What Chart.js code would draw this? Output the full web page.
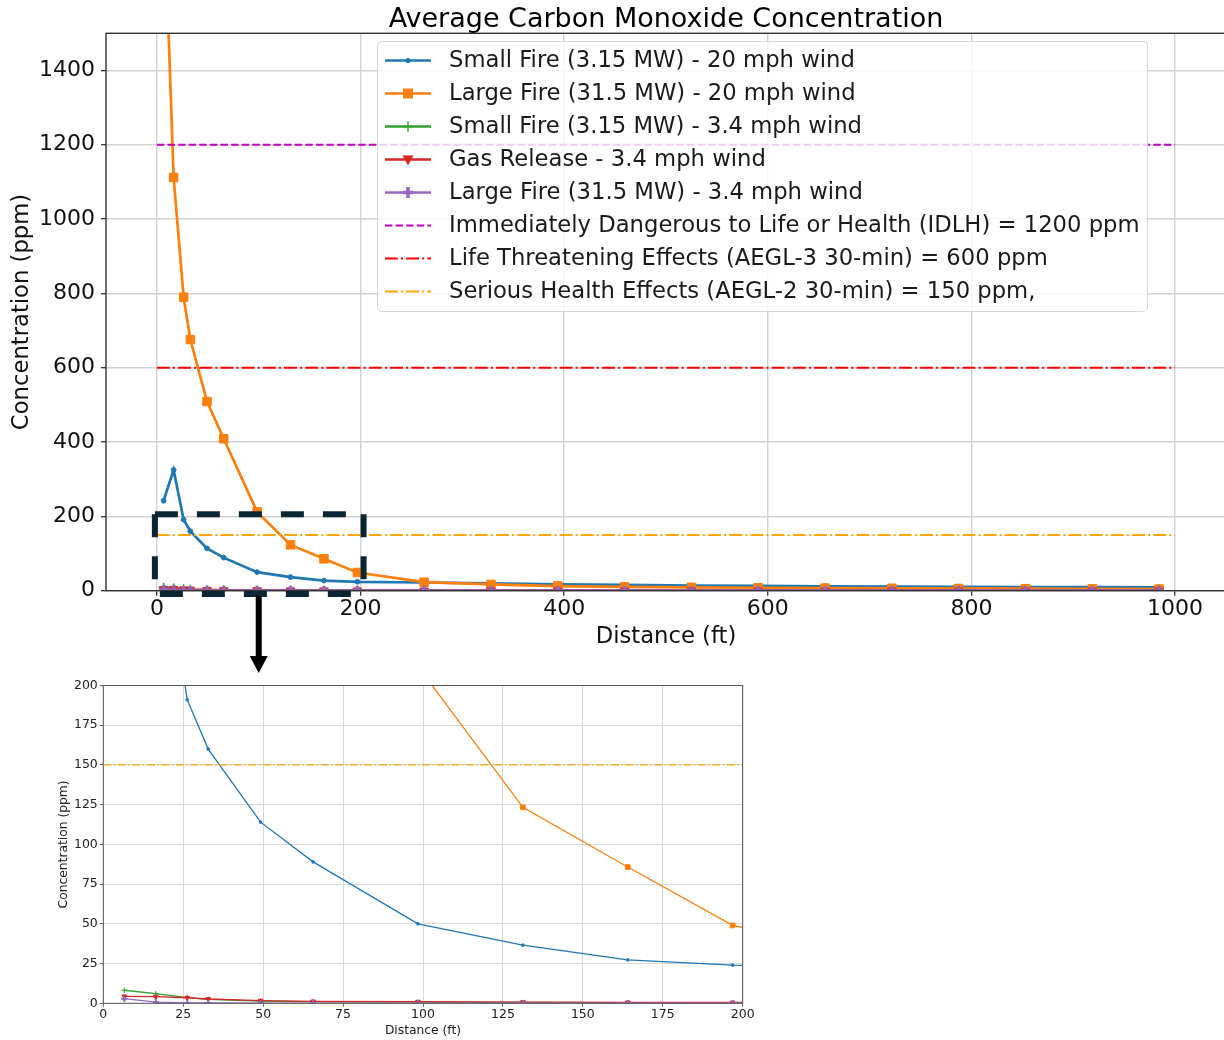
<!DOCTYPE html>
<html><head><meta charset="utf-8">
<script src="https://cdn.jsdelivr.net/npm/chart.js@4.4.1/dist/chart.umd.min.js"></script>
<style>
html,body{margin:0;padding:0;background:#fff;overflow:hidden;width:1224px;height:1040px;position:relative;font-family:'DejaVu Sans',sans-serif;}
#main{position:absolute;left:0;top:0;}
#inset{position:absolute;left:0;top:676px;}
#legend{position:absolute;left:377px;top:41px;width:771px;height:271px;box-sizing:border-box;border:1.3px solid rgba(204,204,204,0.8);border-radius:5px;background:rgba(255,255,255,0.8);}
.row{position:absolute;left:0;height:33px;width:765px;}
.row svg{position:absolute;left:7px;top:0;}
.row span{position:absolute;left:71px;top:-1px;line-height:33px;font-size:22.7px;color:#1a1a1a;white-space:nowrap;}
</style></head>
<body>
<canvas id="main" width="1240" height="676"></canvas>
<canvas id="inset" width="760" height="364"></canvas>
<div id="legend"></div>
<script>
// ---------------- DATA ----------------
const distancesFt = [6.56, 16.4, 26.25, 32.81, 49.21, 65.62, 98.43, 131.23, 164.04, 196.85, 262.47, 328.08, 393.7, 459.32, 524.93, 590.55, 656.17, 721.78, 787.4, 853.02, 918.64, 984.25];
const smallFire20 = [242, 325, 191, 160, 114, 89, 50, 36.6, 27.3, 24, 22, 19.5, 17, 15.5, 14, 13, 12, 11, 10.5, 10, 9.5, 9];
const largeFire20 = [1890, 1112, 790, 676, 509, 409, 212, 123.3, 85.8, 49, 23, 17, 12.5, 10.5, 9, 8, 7, 6.5, 6, 5.5, 5, 4.5];
const smallFire34 = [8.2, 6.1, 3.6, 2.5, 1.4, 1.0, 0.7, 0.5, 0.4, 0.35, 0.3, 0.25, 0.2, 0.2, 0.15, 0.15, 0.1, 0.1, 0.1, 0.1, 0.1, 0.1];
const gasRelease34 = [4.4, 4.2, 3.5, 2.7, 1.7, 1.2, 1.0, 0.8, 0.6, 0.5, 0.4, 0.3, 0.3, 0.25, 0.2, 0.2, 0.2, 0.15, 0.15, 0.15, 0.1, 0.1];
const largeFire34 = [2.9, 0.8, 0.3, 0.2, 0.15, 0.1, 0.1, 0.05, 0.05, 0.05, 0.05, 0.05, 0.05, 0.05, 0.05, 0.05, 0.05, 0.05, 0.05, 0.05, 0.05, 0.05];
const seriesLabels = ['Small Fire (3.15 MW) - 20 mph wind', 'Large Fire (31.5 MW) - 20 mph wind', 'Small Fire (3.15 MW) - 3.4 mph wind', 'Gas Release - 3.4 mph wind', 'Large Fire (31.5 MW) - 3.4 mph wind'];
const thresholdLabels = ['Immediately Dangerous to Life or Health (IDLH) = 1200 ppm', 'Life Threatening Effects (AEGL-3 30-min) = 600 ppm', 'Serious Health Effects (AEGL-2 30-min) = 150 ppm,'];
const thresholdValues = [1200, 600, 150];
const thresholdExtent = [0, 1000];
const mainXTicks = [0, 200, 400, 600, 800, 1000];
const mainYTicks = [0, 200, 400, 600, 800, 1000, 1200, 1400];
const insetTicks = [0, 25, 50, 75, 100, 125, 150, 175, 200];
const zoomBoxX = [-2, 203];
const zoomBoxY = [-9, 206];
const arrowX = 100;
const mainTitle = 'Average Carbon Monoxide Concentration';
const xTitle = 'Distance (ft)';
const yTitle = 'Concentration (ppm)';

// ---------------- STYLES ----------------
Chart.defaults.font.family = "'DejaVu Sans', sans-serif";
const seriesData = [smallFire20, largeFire20, smallFire34, gasRelease34, largeFire34];
const seriesColors = ['#1f77b4', '#ff7f0e', '#2ca02c', '#d62728', '#9467bd'];
const thresholdColors = ['#bf00bf', '#ff0000', '#ffa500'];

function makePlus(size, color) {
  const c = document.createElement('canvas');
  c.width = size; c.height = size;
  const g = c.getContext('2d');
  const t = size / 3;
  g.fillStyle = color;
  g.fillRect(0, t, size, t);
  g.fillRect(t, 0, t, size);
  return c;
}

function buildDatasets(k) {
  const markers = [
    {pointStyle: 'circle', pointRadius: 2.4 * k, pointRotation: 0},
    {pointStyle: 'rect', pointRadius: 6 * k, pointRotation: 0},
    {pointStyle: 'cross', pointRadius: 5 * k, pointRotation: 0},
    {pointStyle: 'triangle', pointRadius: 5 * k, pointRotation: 180},
    {pointStyle: makePlus(Math.max(5, Math.round(10 * k)), seriesColors[4]), pointRadius: 5 * k, pointRotation: 0}
  ];
  const ds = seriesData.map((arr, i) => ({
    label: seriesLabels[i],
    data: distancesFt.map((d, j) => ({x: d, y: arr[j]})),
    borderColor: seriesColors[i],
    backgroundColor: seriesColors[i],
    pointBackgroundColor: seriesColors[i],
    pointBorderColor: seriesColors[i],
    pointBorderWidth: i === 2 ? 1.5 * Math.max(k, 0.7) : 1,
    borderWidth: k === 1 ? 2.7 : 1.3,
    tension: 0,
    order: 20 - i,
    ...markers[i]
  }));
  const dashes = k === 1 ? [[7.4, 3.2], [12.8, 3.2, 2, 3.2], [12.8, 3.2, 2, 3.2]] : [[5, 2], [8, 2.5, 1.5, 2.5], [8, 2.5, 1.5, 2.5]];
  thresholdValues.forEach((v, i) => {
    ds.push({
      label: thresholdLabels[i],
      data: thresholdExtent.map(x => ({x: x, y: v})),
      borderColor: thresholdColors[i],
      backgroundColor: thresholdColors[i],
      borderWidth: k === 1 ? 2.1 : 1.2,
      borderDash: dashes[i],
      pointRadius: 0,
      tension: 0,
      order: 10 - i
    });
  });
  return ds;
}

const framePlugin = {
  id: 'frame',
  afterDatasetsDraw(chart, args, opts) {
    const {ctx, chartArea: a} = chart;
    ctx.save();
    ctx.strokeStyle = opts.color || '#333';
    ctx.lineWidth = opts.width || 1.3;
    ctx.strokeRect(a.left, a.top, a.right - a.left, a.bottom - a.top);
    ctx.restore();
  }
};

const zoomBoxPlugin = {
  id: 'zoomBox',
  afterDraw(chart) {
    const {ctx, scales: {x, y}} = chart;
    const l = x.getPixelForValue(zoomBoxX[0]), r = x.getPixelForValue(zoomBoxX[1]);
    const t = y.getPixelForValue(zoomBoxY[1]), b = y.getPixelForValue(zoomBoxY[0]);
    ctx.save();
    ctx.strokeStyle = '#0b2533';
    ctx.lineWidth = 6;
    ctx.lineCap = 'butt';
    ctx.setLineDash([23, 19]);
    const seg = (x1, y1, x2, y2, off) => { ctx.lineDashOffset = off; ctx.beginPath(); ctx.moveTo(x1, y1); ctx.lineTo(x2, y2); ctx.stroke(); };
    seg(l, t, r, t, 0);
    seg(r, t, r, b, 0);
    seg(l, b, r, b, -5);
    seg(l, t, l, b, 0);
    const ax = x.getPixelForValue(arrowX);
    ctx.setLineDash([]);
    ctx.fillStyle = '#000';
    ctx.fillRect(ax - 3, b + 2, 6, 61);
    ctx.beginPath();
    ctx.moveTo(ax - 9, b + 62);
    ctx.lineTo(ax + 9, b + 62);
    ctx.lineTo(ax, b + 79);
    ctx.closePath();
    ctx.fill();
    ctx.restore();
  }
};

const tickCb = v => String(v);

// ---------------- MAIN CHART ----------------
new Chart(document.getElementById('main'), {
  type: 'line',
  data: {datasets: buildDatasets(1)},
  options: {
    responsive: false, animation: false, devicePixelRatio: 1,
    layout: {padding: {left: 0, top: 0, right: 14, bottom: 0}},
    plugins: {
      legend: {display: false}, tooltip: {enabled: false},
      title: {display: true, text: mainTitle, fullSize: false, color: '#000', font: {size: 27, weight: 'normal', lineHeight: 1.0}, padding: {top: 6, bottom: 0.3}},
      frame: {color: '#333', width: 1.4}
    },
    scales: {
      x: {
        type: 'linear', min: -50, max: 1050,
        afterBuildTicks: s => { s.ticks = mainXTicks.map(v => ({value: v})); },
        afterFit: s => { s.height = 85.3; },
        ticks: {callback: tickCb, font: {size: 22}, color: '#111', padding: 0, maxRotation: 0, autoSkip: false},
        grid: {color: '#d2d2d2', lineWidth: 1.4, tickLength: 5, tickColor: '#333', tickWidth: 1.3},
        border: {display: false},
        title: {display: true, text: xTitle, color: '#111', font: {size: 22.7}, padding: {top: 0, bottom: 25.5}}
      },
      y: {
        type: 'linear', min: 0, max: 1500,
        afterBuildTicks: s => { s.ticks = mainYTicks.map(v => ({value: v})); },
        afterFit: s => { s.width = 106; },
        ticks: {callback: tickCb, font: {size: 22}, color: '#111', padding: 6, autoSkip: false},
        grid: {color: '#d2d2d2', lineWidth: 1.4, tickLength: 5, tickColor: '#333', tickWidth: 1.3},
        border: {display: false},
        title: {display: true, text: yTitle, color: '#111', font: {size: 22.7}, padding: {top: 8.5, bottom: 0}}
      }
    }
  },
  plugins: [framePlugin, zoomBoxPlugin]
});

// ---------------- INSET CHART ----------------
new Chart(document.getElementById('inset'), {
  type: 'line',
  data: {datasets: buildDatasets(0.55)},
  options: {
    responsive: false, animation: false, devicePixelRatio: 1,
    layout: {padding: {left: 0, top: 9, right: 17.3, bottom: 0}},
    plugins: {legend: {display: false}, tooltip: {enabled: false}, title: {display: false}, frame: {color: '#555', width: 1}},
    scales: {
      x: {
        type: 'linear', min: 0, max: 200,
        afterBuildTicks: s => { s.ticks = insetTicks.map(v => ({value: v})); },
        afterFit: s => { s.height = 36.7; },
        ticks: {callback: tickCb, font: {size: 12.5}, color: '#222', padding: 0, maxRotation: 0, autoSkip: false},
        grid: {color: '#d8d8d8', lineWidth: 1, tickLength: 3.5, tickColor: '#444', tickWidth: 0.8},
        border: {display: false},
        title: {display: true, text: xTitle, color: '#222', font: {size: 12.3}, padding: {top: 0, bottom: 1.5}}
      },
      y: {
        type: 'linear', min: 0, max: 200,
        afterBuildTicks: s => { s.ticks = insetTicks.map(v => ({value: v})); },
        afterFit: s => { s.width = 103.3; },
        ticks: {callback: tickCb, font: {size: 12.5}, color: '#222', padding: 2, autoSkip: false},
        grid: {color: '#d8d8d8', lineWidth: 1, tickLength: 3.5, tickColor: '#444', tickWidth: 0.8},
        border: {display: false},
        title: {display: true, text: yTitle, color: '#222', font: {size: 12.3}, padding: {top: 56.5, bottom: 0}}
      }
    }
  },
  plugins: [framePlugin]
});

// ---------------- LEGEND ----------------
function markerSvg(i, c) {
  const cx = 23, cy = 16.5;
  if (i === 0) return `<circle cx="${cx}" cy="${cy}" r="2.6" fill="${c}"/>`;
  if (i === 1) return `<rect x="${cx - 5}" y="${cy - 5}" width="10" height="10" fill="${c}"/>`;
  if (i === 2) return `<path d="M${cx - 5} ${cy}H${cx + 5}M${cx} ${cy - 5}V${cy + 5}" stroke="${c}" stroke-width="1.5"/>`;
  if (i === 3) return `<path d="M${cx - 5.5} ${cy - 4}L${cx + 5.5} ${cy - 4}L${cx} ${cy + 6}Z" fill="${c}"/>`;
  return `<path d="M${cx - 1.8} ${cy - 5.5}h3.6v3.7h3.7v3.6h-3.7v3.7h-3.6v-3.7h-3.7v-3.6h3.7z" fill="${c}"/>`;
}
const legend = document.getElementById('legend');
let html = '';
seriesLabels.forEach((lab, i) => {
  html += `<div class="row" style="top:${1.5 + 33 * i}px"><svg width="48" height="33"><line x1="0" y1="16.5" x2="46" y2="16.5" stroke="${seriesColors[i]}" stroke-width="2.7"/>${markerSvg(i, seriesColors[i])}</svg><span>${lab}</span></div>`;
});
const legDash = ['7.4 3.2', '12.8 3.2 2 3.2', '12.8 3.2 2 3.2'];
thresholdLabels.forEach((lab, i) => {
  const r = seriesLabels.length + i;
  html += `<div class="row" style="top:${1.5 + 33 * r}px"><svg width="48" height="33"><line x1="0" y1="16.5" x2="46" y2="16.5" stroke="${thresholdColors[i]}" stroke-width="2.1" stroke-dasharray="${legDash[i]}"/></svg><span>${lab}</span></div>`;
});
legend.innerHTML = html;
</script>
</body></html>
